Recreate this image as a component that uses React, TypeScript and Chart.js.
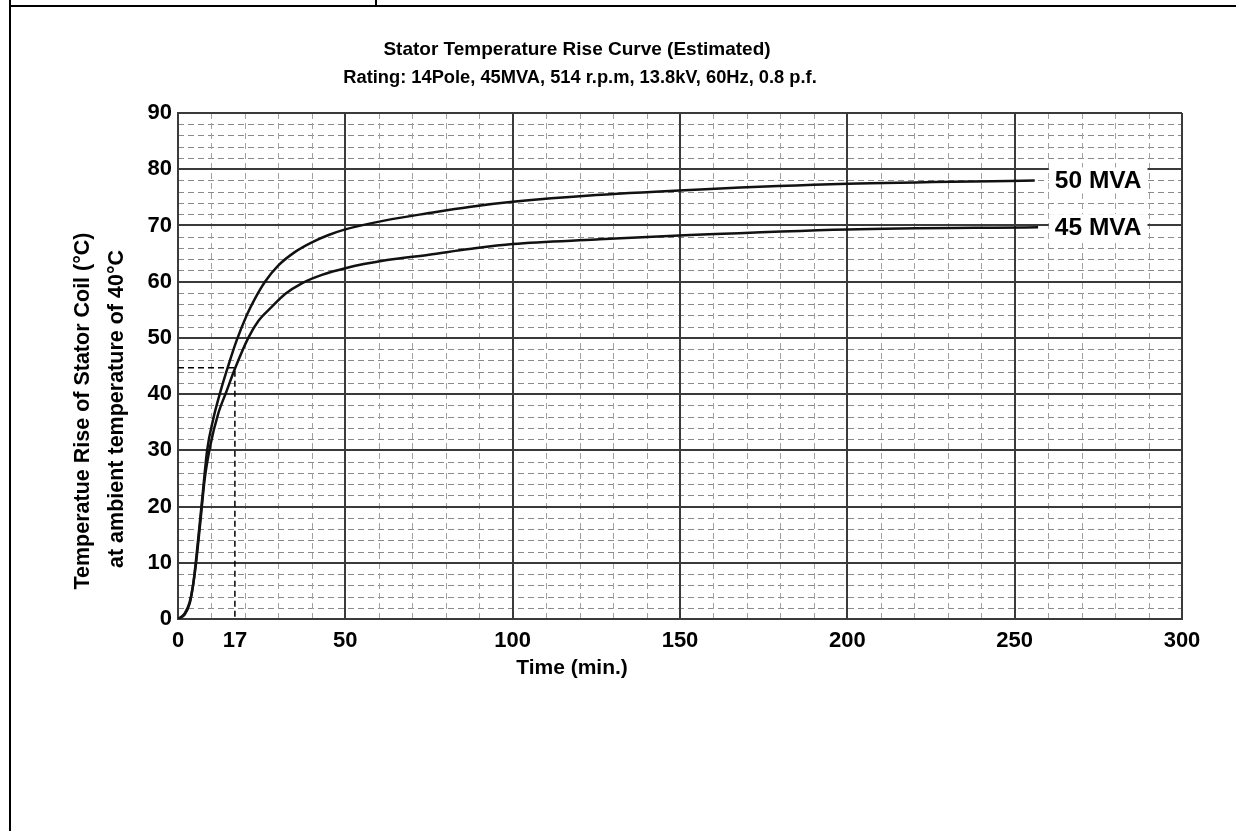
import React, { useEffect, useRef } from "react";
import { Chart, registerables } from "chart.js";

Chart.register(...registerables);

const FONT = "'Liberation Sans', Arial, Helvetica, sans-serif";

// ---- text ----
const titleLines = [
  "Stator Temperature Rise Curve (Estimated)",
  "Rating: 14Pole, 45MVA, 514 r.p.m, 13.8kV, 60Hz, 0.8 p.f.",
];
const yTitleLines = ["Temperatue Rise of Stator Coil (°C)", "at ambient temperature of 40°C"];
const xTitle = "Time (min.)";
const seriesLabels = ["50 MVA", "45 MVA"];

// ---- axes ----
const xMin = 0;
const xMax = 300;
const xTickValues = [0, 17, 50, 100, 150, 200, 250, 300];
const xMajorStep = 50;
const xMinorStep = 10;
const yMin = 0;
const yMax = 90;
const yMajorStep = 10;
const yMinorStep = 2;

// ---- series: 50 MVA ----
const time50 = [0, 2, 3.5, 4.5, 5.3, 6.5, 7.5, 8.7, 10.5, 12.7, 15, 17.5, 20.5, 23, 26, 30, 35, 40, 45, 50, 62, 75, 87, 100, 125, 156, 200, 256];
const temp50 = [0, 1, 3, 6, 10, 17, 23, 30, 35.5, 40.5, 45, 49.5, 54, 57, 60, 62.9, 65.3, 67, 68.3, 69.3, 70.9, 72.2, 73.3, 74.2, 75.4, 76.4, 77.4, 78];

// ---- series: 45 MVA ----
const time45 = [0, 2, 3.5, 4.5, 5.4, 6.8, 8, 9.7, 12, 14.5, 17, 21, 24, 28, 32, 37, 43, 50, 62, 75, 87, 100, 125, 153, 200, 257];
const temp45 = [0, 0.8, 2.8, 6, 10, 18, 25, 31, 36.5, 40.5, 44.5, 50, 53, 55.5, 57.8, 59.7, 61.2, 62.4, 63.8, 64.8, 65.8, 66.7, 67.5, 68.3, 69.3, 69.7];

// ---- dashed reference at 17 min ----
const refTime = [0, 17, 17];
const refTemp = [44.7, 44.7, 0];

const toPoints = (xs: number[], ys: number[]) => xs.map((x, i) => ({ x, y: ys[i] }));

const decorPlugin = {
  id: "decor",
  beforeDraw(chart: any) {
    const { ctx, chartArea: a } = chart;
    const xs = chart.scales.x;
    const ys = chart.scales.y;
    ctx.save();
    ctx.fillStyle = "#ffffff";
    ctx.fillRect(0, 0, chart.width, chart.height);
    ctx.lineWidth = 1;
    ctx.setLineDash([6, 4]);
    ctx.strokeStyle = "#8a8a8a";
    for (let v = yMin + yMinorStep; v < yMax; v += yMinorStep) {
      if (v % yMajorStep === 0) continue;
      const py = Math.round(ys.getPixelForValue(v)) + 0.5;
      ctx.beginPath();
      ctx.moveTo(a.left, py);
      ctx.lineTo(a.right, py);
      ctx.stroke();
    }
    ctx.strokeStyle = "#a0a0a0";
    for (let v = xMin + xMinorStep; v < xMax; v += xMinorStep) {
      if (v % xMajorStep === 0) continue;
      const px = Math.round(xs.getPixelForValue(v)) + 0.5;
      ctx.beginPath();
      ctx.moveTo(px, a.top);
      ctx.lineTo(px, a.bottom);
      ctx.stroke();
    }
    ctx.restore();
  },
  afterDatasetsDraw(chart: any) {
    const { ctx } = chart;
    const xs = chart.scales.x;
    const ys = chart.scales.y;
    ctx.save();
    ctx.font = `bold 24.5px ${FONT}`;
    ctx.textBaseline = "middle";
    ctx.textAlign = "left";
    const ends = [
      { v: temp50[temp50.length - 1], label: seriesLabels[0] },
      { v: temp45[temp45.length - 1], label: seriesLabels[1] },
    ];
    ends.forEach((e) => {
      const px = xs.getPixelForValue(262);
      const py = ys.getPixelForValue(e.v);
      const w = ctx.measureText(e.label).width;
      ctx.fillStyle = "#ffffff";
      ctx.fillRect(px - 6, py - 13, w + 12, 26);
      ctx.fillStyle = "#000000";
      ctx.fillText(e.label, px, py + 1);
    });
    ctx.restore();
  },
  afterDraw(chart: any) {
    const { ctx } = chart;
    ctx.save();
    ctx.fillStyle = "#000000";
    ctx.textAlign = "center";
    ctx.textBaseline = "middle";
    ctx.font = `bold 19px ${FONT}`;
    ctx.fillText(titleLines[0], 577, 50);
    ctx.font = `bold 18.3px ${FONT}`;
    ctx.fillText(titleLines[1], 580, 78);
    ctx.font = `bold 21px ${FONT}`;
    ctx.fillText(xTitle, 572, 668);
    ctx.font = `bold 21.5px ${FONT}`;
    ctx.save();
    ctx.translate(83, 411);
    ctx.rotate(-Math.PI / 2);
    ctx.fillText(yTitleLines[0], 0, 0);
    ctx.restore();
    ctx.save();
    ctx.translate(117, 409);
    ctx.rotate(-Math.PI / 2);
    ctx.fillText(yTitleLines[1], 0, 0);
    ctx.restore();
    ctx.restore();
  },
};

export default function App() {
  const canvasRef = useRef<HTMLCanvasElement | null>(null);

  useEffect(() => {
    if (!canvasRef.current) return;
    const chart = new Chart(canvasRef.current, {
      type: "line",
      data: {
        datasets: [
          {
            label: seriesLabels[0],
            data: toPoints(time50, temp50),
            borderColor: "#111111",
            borderWidth: 2.5,
            pointRadius: 0,
            fill: false,
            cubicInterpolationMode: "monotone",
          },
          {
            label: seriesLabels[1],
            data: toPoints(time45, temp45),
            borderColor: "#111111",
            borderWidth: 2.5,
            pointRadius: 0,
            fill: false,
            cubicInterpolationMode: "monotone",
          },
          {
            label: "17 min",
            data: toPoints(refTime, refTemp),
            borderColor: "#000000",
            borderWidth: 1.5,
            borderDash: [6, 4],
            pointRadius: 0,
            fill: false,
            tension: 0,
          },
        ],
      },
      options: {
        animation: false,
        responsive: true,
        maintainAspectRatio: false,
        layout: { padding: { left: 118, right: 54, top: 113, bottom: 162 } },
        plugins: {
          legend: { display: false },
          tooltip: { enabled: false },
          title: { display: false },
        },
        scales: {
          x: {
            type: "linear",
            min: xMin,
            max: xMax,
            afterBuildTicks: (scale: any) => {
              scale.ticks = xTickValues.map((v) => ({ value: v }));
            },
            afterFit: (scale: any) => {
              scale.height = 50;
            },
            ticks: {
              autoSkip: false,
              maxRotation: 0,
              padding: 9,
              color: "#000000",
              font: { family: FONT, size: 22, weight: "bold" },
              callback: (v: any) => String(v),
            },
            grid: {
              drawTicks: false,
              lineWidth: 2,
              color: (c: any) => (c.tick && c.tick.value % xMajorStep !== 0 ? "rgba(0,0,0,0)" : "#3a3a3a"),
            },
            border: { display: true, color: "#3a3a3a", width: 2 },
          },
          y: {
            type: "linear",
            min: yMin,
            max: yMax,
            ticks: {
              stepSize: yMajorStep,
              padding: 6,
              color: "#000000",
              font: { family: FONT, size: 22, weight: "bold" },
            },
            afterFit: (scale: any) => {
              scale.width = 60;
            },
            grid: { drawTicks: false, lineWidth: 2, color: "#3a3a3a" },
            border: { display: true, color: "#3a3a3a", width: 2 },
          },
        },
      },
      plugins: [decorPlugin],
    } as any);
    return () => chart.destroy();
  }, []);

  return (
    <div style={{ position: "fixed", left: 0, top: 0, width: 1236, height: 831, background: "#fff" }}>
      <canvas ref={canvasRef} />
      <div style={{ position: "absolute", left: 9, top: 0, width: 2, height: 831, background: "#000" }} />
      <div style={{ position: "absolute", left: 9, top: 5, width: 1227, height: 2, background: "#000" }} />
      <div style={{ position: "absolute", left: 375, top: 0, width: 2, height: 6, background: "#000" }} />
    </div>
  );
}
